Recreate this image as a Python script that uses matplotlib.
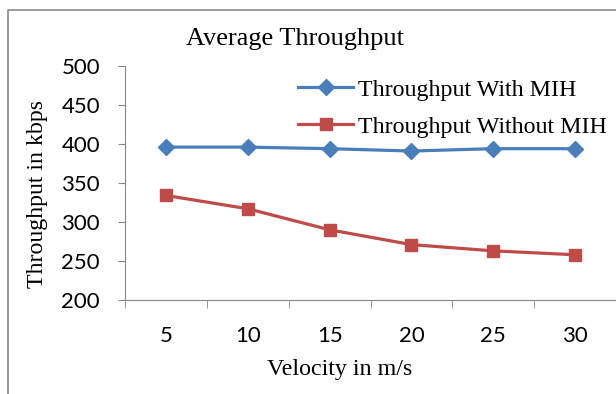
import matplotlib
matplotlib.use("Agg")
import matplotlib.pyplot as plt
from matplotlib.lines import Line2D

categories = ["5", "10", "15", "20", "25", "30"]
with_mih = [396, 396, 394, 391, 394, 394]
without_mih = [334, 317, 290, 271, 263, 258]
yticks = [200, 250, 300, 350, 400, 450, 500]

fig = plt.figure(figsize=(6.16, 3.94), dpi=100)
ax = fig.add_axes([125/616, 1-300/394, 1-125/616, (300-66)/394])

x = list(range(len(categories)))
ax.plot(x, with_mih, color="#4A7EBB", lw=2.3, marker="D", ms=8.5,
        label="Throughput With MIH")
ax.plot(x, without_mih, color="#BE4B48", lw=2.3, marker="s", ms=9,
        label="Throughput Without MIH")

ax.set_xlim(-0.5, len(categories) - 0.5)
ax.set_ylim(200, 500)
ax.set_yticks(yticks)
ax.set_xticks(x)
ax.set_xticklabels(categories)
ax.set_xticks([i - 0.5 for i in range(len(categories) + 1)], minor=True)
ax.tick_params(axis="x", which="major", length=0, pad=19)
ax.tick_params(axis="x", which="minor", length=6, color="#868686", direction="out")
ax.tick_params(axis="y", length=5, color="#868686", pad=13)
for lab in ax.get_xticklabels() + ax.get_yticklabels():
    lab.set_fontfamily("Lato")
    lab.set_fontsize(16)

for s in ["top", "right"]:
    ax.spines[s].set_visible(False)
ax.spines["left"].set_color("#868686")
ax.spines["bottom"].set_color("#868686")

serif = "Liberation Serif"
fig.text(295/616, 1-39/394, "Average Throughput", ha="center", va="center",
         fontfamily=serif, fontsize=19)
fig.text(38/616, 1-194/394, "Throughput in kbps", ha="center", va="center",
         rotation=90, fontfamily=serif, fontsize=17.2)
fig.text(340/616, 1-369/394, "Velocity in m/s", ha="center", va="center",
         fontfamily=serif, fontsize=17.3)

leg = ax.legend(loc="upper left", bbox_to_anchor=(298/616, 1-79/394),
                bbox_transform=fig.transFigure, frameon=False,
                prop={"family": serif, "size": 17.3}, handlelength=2.3,
                handletextpad=0.2, labelspacing=0.62, borderaxespad=0,
                borderpad=0)

border = Line2D([8/616, 8/616, 1.0], [0, 1-10/394, 1-10/394],
                transform=fig.transFigure, color="#888888", lw=1.2)
fig.add_artist(border)

fig.savefig("out.png", dpi=100)
